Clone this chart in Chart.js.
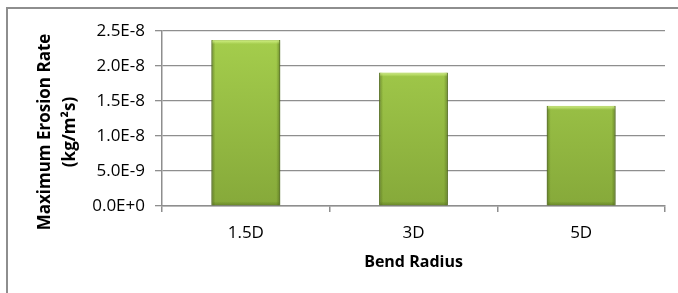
<!DOCTYPE html>
<html>
<head>
  <meta charset="UTF-8">
  <title>Maximum Erosion Rate vs Bend Radius</title>
  <script src="https://cdn.jsdelivr.net/npm/chart.js"></script>
  <style>
    body {
      margin: 0;
      background: #fff;
      width: 678px;
      height: 293px;
      overflow: hidden;
      position: relative;
    }
    #frame {
      position: absolute;
      left: 6px;
      top: 7px;
      width: 700px;
      height: 320px;
      border: 2px solid #8e8e8e;
      border-right: none;
      border-bottom: none;
    }
    #chart {
      position: absolute;
      left: 0;
      top: 0;
    }
  </style>
</head>
<body>
  <div id="frame"></div>
  <canvas id="chart" width="678" height="293"></canvas>
  <script>
    // data
    const radii = ['1.5D', '3D', '5D'];
    const erosionRate = [2.37e-8, 1.905e-8, 1.43e-8];
    const yTicks = [0, 5e-9, 1e-8, 1.5e-8, 2e-8, 2.5e-8];
    const yTitle = ['Maximum Erosion Rate', '(kg/m\u00b2s)'];
    const xTitle = 'Bend Radius';

    const FONT = "'Open Sans', sans-serif";

    function barFill(context) {
      const chart = context.chart;
      const area = chart.chartArea;
      if (!area) return '#9bc446';
      const g = chart.ctx.createLinearGradient(0, area.top, 0, area.bottom);
      g.addColorStop(0, '#a6cf4d');
      g.addColorStop(1, '#86a93a');
      return g;
    }

    // soft shadow + bevelled edges like the office chart style
    const bevel = {
      id: 'bevel',
      beforeDatasetsDraw(chart) {
        const ctx = chart.ctx;
        ctx.save();
        ctx.shadowColor = 'rgba(0,0,0,0.28)';
        ctx.shadowBlur = 4;
        ctx.shadowOffsetX = 0;
        ctx.shadowOffsetY = 1;
      },
      afterDatasetsDraw(chart) {
        const ctx = chart.ctx;
        ctx.restore();
        ctx.save();
        chart.getDatasetMeta(0).data.forEach(bar => {
          const p = bar.getProps(['x', 'y', 'base', 'width'], true);
          const l = p.x - p.width / 2, r = p.x + p.width / 2;
          const e = 4;
          let g = ctx.createLinearGradient(l, 0, l + e, 0);
          g.addColorStop(0, 'rgba(70,95,20,0.55)');
          g.addColorStop(1, 'rgba(70,95,20,0)');
          ctx.fillStyle = g;
          ctx.fillRect(l, p.y, e, p.base - p.y);
          g = ctx.createLinearGradient(r, 0, r - e, 0);
          g.addColorStop(0, 'rgba(70,95,20,0.55)');
          g.addColorStop(1, 'rgba(70,95,20,0)');
          ctx.fillStyle = g;
          ctx.fillRect(r - e, p.y, e, p.base - p.y);
          g = ctx.createLinearGradient(0, p.y, 0, p.y + e);
          g.addColorStop(0, 'rgba(215,245,140,0.9)');
          g.addColorStop(1, 'rgba(215,245,140,0)');
          ctx.fillStyle = g;
          ctx.fillRect(l + 1, p.y, p.width - 2, e);
          g = ctx.createLinearGradient(0, p.base, 0, p.base - e);
          g.addColorStop(0, 'rgba(70,95,20,0.45)');
          g.addColorStop(1, 'rgba(70,95,20,0)');
          ctx.fillStyle = g;
          ctx.fillRect(l + 1, p.base - e, p.width - 2, e);
        });
        ctx.restore();
      }
    };

    // two-line rotated y title, centred a bit below the plot centre
    const yTitlePlugin = {
      id: 'yTitle',
      afterDraw(chart) {
        const ctx = chart.ctx;
        ctx.save();
        ctx.font = "bold 17px " + FONT;
        ctx.fillStyle = '#000';
        ctx.textAlign = 'center';
        ctx.textBaseline = 'middle';
        ctx.translate(45, 132);
        ctx.rotate(-Math.PI / 2);
        yTitle.forEach((line, i) => ctx.fillText(line, 0, i * 25));
        ctx.restore();
      }
    };

    new Chart(document.getElementById('chart'), {
      type: 'bar',
      data: {
        labels: radii,
        datasets: [{
          data: erosionRate,
          backgroundColor: barFill,
          borderColor: '#6f8e2c',
          borderWidth: 1,
          barPercentage: 0.41,
          categoryPercentage: 1
        }]
      },
      options: {
        responsive: false,
        devicePixelRatio: 1,
        animation: false,
        layout: { padding: { left: 0, top: 31, right: 13, bottom: 21 } },
        plugins: {
          legend: { display: false },
          tooltip: { enabled: false }
        },
        scales: {
          x: {
            afterFit(scale) { scale.height = 66; },
            border: { color: '#8e8e8e', width: 1.5 },
            grid: {
              offset: true,
              drawOnChartArea: false,
              tickLength: 6,
              color: '#8e8e8e',
              lineWidth: 1.5
            },
            ticks: {
              color: '#000',
              padding: 11,
              font: { family: FONT, size: 17 }
            },
            title: {
              display: true,
              text: xTitle,
              color: '#000',
              padding: { top: 4, bottom: 0 },
              font: { family: FONT, size: 16, weight: 'bold' }
            }
          },
          y: {
            min: 0,
            max: 2.5e-8,
            afterFit(scale) { scale.width = 162; },
            afterBuildTicks(scale) {
              scale.ticks = yTicks.map(v => ({ value: v }));
            },
            border: { color: '#8e8e8e', width: 1.5 },
            grid: {
              color: '#8e8e8e',
              lineWidth: 1.3,
              tickLength: 7
            },
            ticks: {
              color: '#000',
              padding: 10,
              font: { family: FONT, size: 17 },
              callback: v => v.toExponential(1).toUpperCase()
            }
          }
        }
      },
      plugins: [bevel, yTitlePlugin]
    });
  </script>
</body>
</html>
